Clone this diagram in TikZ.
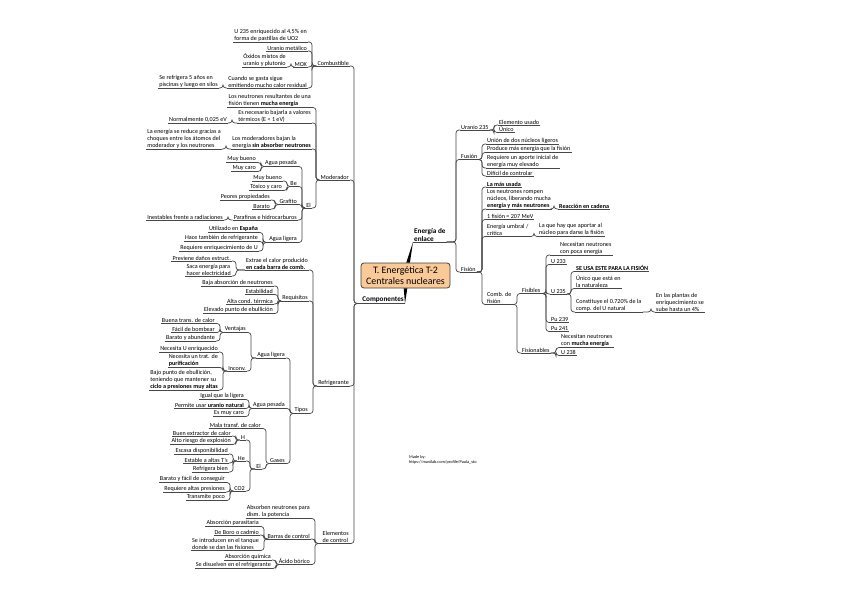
\documentclass[tikz,border=0pt]{standalone}
\usepackage{fontspec}
\setmainfont{Carlito}
\usetikzlibrary{positioning}

\definecolor{topicfill}{RGB}{250,201,152}

\tikzset{
  ln/.style={draw=black!72, line width=0.7pt, rounded corners=3pt},
  ul/.style={draw=black!72, line width=0.7pt},
  leaf/.style={font=\fontsize{6.1}{7}\selectfont, align=left, inner xsep=1pt, inner ysep=0.7pt,
    append after command={(\tikzlastnode.south west) edge[ul] (\tikzlastnode.south east)}},
  lt/.style={leaf, anchor=south east},
  rt/.style={leaf, anchor=south west},
  bigtxt/.style={font=\fontsize{7.2}{8}\selectfont\bfseries},
  topic/.style={draw=black!75, line width=0.8pt, fill=topicfill, rounded corners=3pt, align=center,
    font=\fontsize{9.9}{10.6}\selectfont, minimum width=89pt, minimum height=25pt, inner sep=2pt},
}

\begin{document}
\begin{tikzpicture}[x=1pt, y=-1pt]
  \useasboundingbox (0,0) rectangle (848,599);

  % central topic and the two main branches
  \node[topic] (main) at (405.5,275.5) {T. Energética T-2\\Centrales nucleares};
  \node[lt,bigtxt] (comp) at (405,303.5) {Componentes};
  \node[rt,bigtxt] (ene) at (413,242) {Energía de\\enlace};
  \fill[black] ([xshift=-1.8pt]main.south) -- ([xshift=1.8pt]main.south) -- (comp.south east) -- cycle;
  \fill[black] ([xshift=0.8pt]main.north) -- ([xshift=4.4pt]main.north) -- (ene.south west) -- cycle;

  % Componentes
  \node[lt] (comb) at (350,66) {Combustible};
  \node[lt] (mod) at (350,180) {Moderador};
  \node[lt] (refr) at (350,386) {Refrigerante};
  \node[lt] (ctrl) at (350,543.5) {Elementos\\de control};

  % combustible
  \node[lt] (enr) at (308,42) {U 235 enriquecido al 4,5\% en\\forma de pastillas de UO2};
  \node[lt] (umet) at (308,51) {Uranio metálico};
  \node[lt] (mox) at (308,67) {MOX};
  \node[lt] (oxm) at (287,67) {Óxidos mixtos de\\uranio y plutonio};
  \node[lt] (resid) at (308,88) {Cuando se gasta sigue\\emitiendo mucho calor residual};
  \node[lt] (silo) at (219,88) {Se refrigera 5 años en\\piscinas y luego en silos};

  % moderador
  \node[lt] (nres) at (312,107.5) {Los neutrones resultantes de una\\fisión tienen \textbf{mucha energía}};
  \node[lt] (bajar) at (312,123) {Es necesario bajarla a valores\\térmicos (E < 1 eV)};
  \node[lt] (norm) at (228,123) {Normalmente 0,025 eV};
  \node[lt] (sinabs) at (312,149) {Los moderadores bajan la\\energía \textbf{sin absorber neutrones}};
  \node[lt] (choq) at (222,149) {La energía se reduce gracias a\\choques entre los átomos del\\moderador y los neutrones};
  \node[lt] (elm) at (312,208) {El};
  \node[lt] (apes) at (298,166.5) {Agua pesada};
  \node[lt] (apes1) at (257,162.5) {Muy bueno};
  \node[lt] (apes2) at (257,171.5) {Muy caro};
  \node[lt] (be) at (298,186.5) {Be};
  \node[lt] (be1) at (283,181) {Muy bueno};
  \node[lt] (be2) at (283,190.5) {Tóxico y caro};
  \node[lt] (graf) at (298,204.5) {Grafito};
  \node[lt] (graf1) at (271,200) {Peores propiedades};
  \node[lt] (graf2) at (271,209) {Barato};
  \node[lt] (paraf) at (298,220) {Parafinas e hidrocarburos};
  \node[lt] (paraf1) at (224,220) {Inestables frente a radiaciones};
  \node[lt] (alig) at (298,242.5) {Agua ligera};
  \node[lt] (alig1) at (259,232.5) {Utilizado en \textbf{España}};
  \node[lt] (alig2) at (259,241.5) {Hace también de refrigerante};
  \node[lt] (alig3) at (259,251) {Requiere enriquecimiento de U};

  % refrigerante
  \node[lt] (extr) at (309,270) {Extrae el calor producido\\\textbf{en cada barra de comb.}};
  \node[lt] (extr1) at (232,261) {Previene daños estruct.};
  \node[lt] (extr2) at (232,276) {Saca energía para\\hacer electricidad};
  \node[lt] (req) at (309,301) {Requisitos};
  \node[lt] (req1) at (274,286) {Baja absorción de neutrones};
  \node[lt] (req2) at (274,294.5) {Estabilidad};
  \node[lt] (req3) at (274,304) {Alta cond. térmica};
  \node[lt] (req4) at (274,313.5) {Elevado punto de ebullición};
  \node[lt] (tipos) at (309,413.5) {Tipos};
  \node[lt] (tlig) at (286,358) {Agua ligera};
  \node[lt] (vent) at (247,332.5) {Ventajas};
  \node[lt] (vent1) at (216,323.5) {Buena trans. de calor};
  \node[lt] (vent2) at (216,332.5) {Fácil de bombear};
  \node[lt] (vent3) at (216,341) {Barato y abundante};
  \node[lt] (inc) at (247,371) {Inconv.};
  \node[lt] (inc1) at (219,352) {Necesita U enriquecido};
  \node[lt] (inc2) at (219,367.5) {Necesita un trat. de\\\textbf{purificación}};
  \node[lt] (inc3) at (219,390) {Bajo punto de ebullición,\\teniendo que mantener su\\\textbf{ciclo a presiones muy altas}};
  \node[lt] (tpes) at (286,408.5) {Agua pesada};
  \node[lt] (tpes1) at (245,399.5) {Igual que la ligera};
  \node[lt] (tpes2) at (245,408.5) {Permite usar \textbf{uranio natural}};
  \node[lt] (tpes3) at (245,416.5) {Es muy caro};
  \node[lt] (gas) at (286,463.5) {Gases};
  \node[lt] (gas1) at (262,428.5) {Mala transf. de calor};
  \node[lt] (elg) at (262,469) {El};
  \node[lt] (h) at (246,440) {H};
  \node[lt] (h1) at (232,436) {Buen extractor de calor};
  \node[lt] (h2) at (232,444.5) {Alto riesgo de explosión};
  \node[lt] (he) at (246,461) {He};
  \node[lt] (he1) at (229,454) {Escasa disponibilidad};
  \node[lt] (he2) at (229,463) {Estable a altas T's};
  \node[lt] (he3) at (229,472) {Refrigera bien};
  \node[lt] (co) at (246,491) {CO2};
  \node[lt] (co1) at (226,482.5) {Barato y fácil de conseguir};
  \node[lt] (co2) at (226,492) {Requiere altas presiones};
  \node[lt] (co3) at (226,500.5) {Transmite poco};

  % elementos de control
  \node[lt] (abs) at (311,518.5) {Absorben neutrones para\\dism. la potencia};
  \node[lt] (barr) at (311,539) {Barras de control};
  \node[lt] (barr1) at (260,526.5) {Absorción parasitaria};
  \node[lt] (barr2) at (260,535) {De Boro o cadmio};
  \node[lt] (barr3) at (260,550.5) {Se introducen en el tanque\\donde se dan las fisiones};
  \node[lt] (acb) at (311,564.5) {Ácido bórico};
  \node[lt] (acb1) at (272,560) {Absorción química};
  \node[lt] (acb2) at (272,568.5) {Se disuelven en el refrigerante};

  % Energia de enlace
  \node[rt] (ura) at (460,130) {Uranio 235};
  \node[rt] (ura1) at (498,125) {Elemento usado};
  \node[rt] (ura2) at (498,132.5) {Único};
  \node[rt] (fus) at (460,159.5) {Fusión};
  \node[rt] (fus1) at (486,144) {Unión de dos núcleos ligeros};
  \node[rt] (fus2) at (486,152.5) {Produce más energía que la fisión};
  \node[rt] (fus3) at (486,168) {Requiere un aporte inicial de\\energía muy elevado};
  \node[rt] (fus4) at (486,176) {Difícil de controlar};
  \node[rt] (fis) at (460,272) {Fisión};
  \node[rt] (fis1) at (486,187) {\textbf{La más usada}};
  \node[rt] (fis2) at (486,209) {Los neutrones rompen\\núcleos, liberando mucha\\\textbf{energía y más neutrones}};
  \node[rt] (cadena) at (558,209) {\textbf{Reacción en cadena}};
  \node[rt] (fis3) at (486,219.5) {1 fisión = 207 MeV};
  \node[rt] (fis4) at (486,236.5) {Energía umbral /\\crítica};
  \node[rt] (aport) at (538,236.5) {La que hay que aportar al\\núcleo para darse la fisión};
  \node[rt] (fis5) at (486,304.5) {Comb. de\\fisión};
  \node[rt] (fisib) at (521,293.5) {Fisibles};
  \node[rt] (poca) at (550,255) {\hspace*{9pt}Necesitan neutrones\\\hspace*{9pt}con poca energía};
  \node[rt] (u233) at (550,264.5) {U 233};
  \node[rt] (u35) at (550,294) {U 235};
  \node[rt] (sefis) at (575,271.5) {\textbf{SE USA ESTE PARA LA FISIÓN}};
  \node[rt] (natur) at (575,288.5) {Único que está en\\la naturaleza};
  \node[rt] (const) at (575,312) {Constituye el 0.720\% de la\\comp. del U natural};
  \node[rt] (plant) at (655,312) {En las plantas de\\enriquecimiento se\\sube hasta un 4\%};
  \node[rt] (pu239) at (550,322.5) {Pu 239};
  \node[rt] (pu241) at (550,331.5) {Pu 241};
  \node[rt] (fisio) at (521,353) {Fisionables};
  \node[rt] (mucha) at (560,347.5) {Necesitan neutrones\\con \textbf{mucha energía}};
  \node[rt] (u238) at (560,355.5) {U 238};

  \node[font=\fontsize{4.3}{5.2}\selectfont, align=left, anchor=north west, inner sep=0pt] (made) at (409,455) {Made by:\\https://mastlab.com/profile/Paula\_sto};

  % links, children on the left
  \foreach \p/\c in {comp/comb, comp/mod, comp/refr, comp/ctrl,
      comb/enr, comb/umet, comb/mox, mox/oxm, comb/resid, resid/silo,
      mod/nres, mod/bajar, bajar/norm, mod/sinabs, sinabs/choq, mod/elm,
      elm/apes, apes/apes1, apes/apes2, elm/be, be/be1, be/be2, elm/graf, graf/graf1, graf/graf2,
      elm/paraf, paraf/paraf1, elm/alig, alig/alig1, alig/alig2, alig/alig3,
      refr/extr, extr/extr1, extr/extr2, refr/req, req/req1, req/req2, req/req3, req/req4,
      refr/tipos, tipos/tlig, tlig/vent, vent/vent1, vent/vent2, vent/vent3,
      tlig/inc, inc/inc1, inc/inc2, inc/inc3, tipos/tpes, tpes/tpes1, tpes/tpes2, tpes/tpes3,
      tipos/gas, gas/gas1, gas/elg, elg/h, h/h1, h/h2, elg/he, he/he1, he/he2, he/he3,
      elg/co, co/co1, co/co2, co/co3,
      ctrl/abs, ctrl/barr, barr/barr1, barr/barr2, barr/barr3, ctrl/acb, acb/acb1, acb/acb2}
    \draw[ln] (\p.south west) -| ([xshift=4pt]\c.south east) -- (\c.south east);

  % links, children on the right
  \foreach \p/\c in {ene/ura, ura/ura1, ura/ura2, ene/fus, fus/fus1, fus/fus2, fus/fus3, fus/fus4,
      ene/fis, fis/fis1, fis/fis2, fis2/cadena, fis/fis3, fis/fis4, fis4/aport, fis/fis5,
      fis5/fisib, fisib/poca, fisib/u233, fisib/u35, u35/sefis, u35/natur, u35/const, const/plant,
      fisib/pu239, fisib/pu241, fis5/fisio, fisio/mucha, fisio/u238}
    \draw[ln] (\p.south east) -| ([xshift=-4pt]\c.south west) -- (\c.south west);
\end{tikzpicture}
\end{document}
